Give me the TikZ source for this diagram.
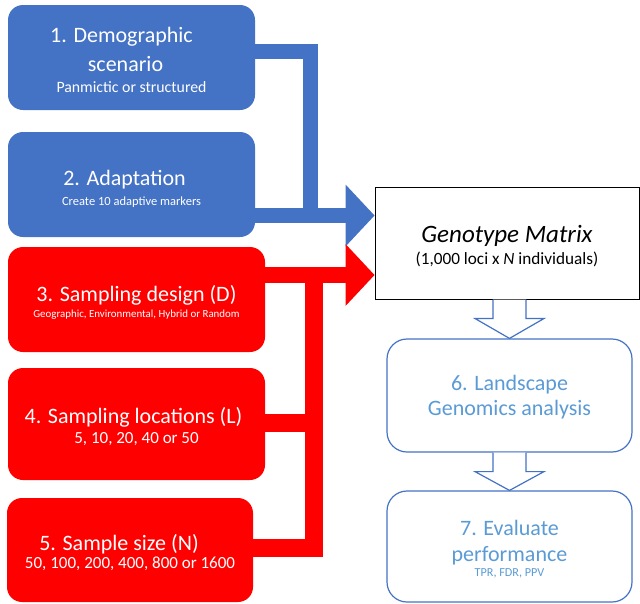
\documentclass[tikz,border=0pt]{standalone}
\usepackage{fontspec}
\setmainfont{Carlito}
\usetikzlibrary{arrows.meta,calc}
\definecolor{cblue}{HTML}{4472C4}
\definecolor{cred}{HTML}{FF0000}
\definecolor{ltblue}{HTML}{5B9BD5}
\newcommand\ttlfont{\fontsize{22}{28}\selectfont}
\newcommand\subfont[1]{\fontsize{#1}{#1}\selectfont}
\newcommand\padr[1]{\rule{#1}{0pt}}
\begin{document}
\begin{tikzpicture}[x=1pt,y=-1pt,
  box/.style={rounded corners=15pt, inner sep=0pt},
  bluebox/.style={box, fill=cblue},
  redbox/.style={box, fill=cred},
  wtxt/.style={inner sep=0pt, align=center, text=white, font=\ttlfont},
  ltxt/.style={inner sep=0pt, align=center, text=ltblue, font=\ttlfont},
  outbox/.style={draw=cblue, line width=1.2pt, rounded corners=20pt, inner sep=0pt, fill=white},
  blueconn/.style={draw=cblue, line width=15pt, line join=miter},
  redconn/.style={draw=cred, line width=18pt, line join=miter},
  bigtip/.style={-{Triangle[length=29pt 0 0, width=62pt 0 0, line width=0pt 0 0]}},
  hollow/.style={draw=cblue, line width=1.2pt, fill=white, line join=miter}
]
\useasboundingbox (0,0) rectangle (640,603);

% boxes
\node[bluebox, minimum width=247pt, minimum height=105pt] (b1) at (131.5,57.5) {};
\node[wtxt] (t1) at ($(b1.center)+(0,2.5)$)
  {1. Demographic\padr{20pt}\\[1pt] scenario\padr{12pt}\\[-6.5pt] {\subfont{15.8}Panmictic or structured}};
\node[bluebox, minimum width=247pt, minimum height=105pt] (b2) at (131.5,184.5) {};
\node[wtxt] (t2) at ($(b2.center)+(0,4)$)
  {2. Adaptation\padr{14pt}\\[-8pt] {\subfont{12.5}Create 10 adaptive markers}};
\node[redbox, minimum width=257pt, minimum height=105pt] (b3) at (136.5,299.5) {};
\node[wtxt] (t3) at ($(b3.center)+(0,3)$)
  {3. Sampling design (D)\\[-12pt] {\subfont{10.9}Geographic, Environmental, Hybrid or Random}};
\node[redbox, minimum width=257pt, minimum height=112pt] (b4) at (136.5,424) {};
\node[wtxt] (t4) at ($(b4.center)+(0,2.5)$)
  {4. Sampling locations (L)\padr{6pt}\\[-8.5pt] {\subfont{17}5, 10, 20, 40 or 50}};
\node[redbox, minimum width=246pt, minimum height=104pt] (b5) at (130,550) {};
\node[wtxt] (t5) at ($(b5.center)+(0,2.5)$)
  {5. Sample size (N)\padr{22pt}\\[-9.5pt] {\subfont{17}50, 100, 200, 400, 800 or 1600}};

\node[draw=black, line width=1pt, inner sep=0pt, minimum width=264pt, minimum height=112pt] (gm) at (507,243) {};
\node[inner sep=0pt, align=center] (tg) at ($(gm.center)+(0,3.5)$)
  {{\fontsize{25}{28}\selectfont\itshape Genotype Matrix}\\[4.5pt] {\subfont{17.2}(1,000 loci x \textit{N} individuals)}};

\node[outbox, minimum width=245pt, minimum height=113pt] (b6) at (509.5,395.5) {};
\node[ltxt] (t6) at ($(b6.center)+(0,2)$)
  {6. Landscape\\[-3pt] Genomics analysis};
\node[outbox, minimum width=245pt, minimum height=111pt] (b7) at (509.5,546.5) {};
\node[ltxt] (t7) at ($(b7.center)+(0,2.5)$)
  {7. Evaluate\\[-2pt] performance\\[-13.5pt] {\subfont{12.2}TPR, FDR, PPV}};

% junction coordinates
\coordinate (bj) at (310.5,51);
\coordinate (bb) at (310.5,215.5);
\coordinate (rt) at (314,267);
\coordinate (ra) at (314,275);
\coordinate (r4) at (314,423);
\coordinate (r5) at (314,547.5);
\coordinate (rb) at (314,557);

% blue connectors
\draw[blueconn] (b1.east |- bj) -- (bj) -- (bb);
\draw[blueconn, bigtip] (b2.east |- bb) -- (gm.west |- bb);

% red connectors
\draw[redconn] (rt) -- (rb);
\draw[redconn] (b4.east |- r4) -- (r4);
\draw[redconn] (b5.east |- r5) -- (r5);
\draw[redconn, line width=16pt, bigtip] (b3.east |- ra) -- (gm.west |- ra);

% hollow block arrows
\coordinate (h1) at (b6.north |- gm.south);
\draw[hollow] ($(h1)+(-16.5,0)$) -- ++(0,19) -- ++(-18,0) -- (b6.north)
  -- ($(h1)+(34.5,19)$) -- ++(-18,0) -- ++(0,-19);
\coordinate (h2) at (b7.north |- b6.south);
\draw[hollow] ($(h2)+(-16.5,0)$) -- ++(0,19) -- ++(-18,0) -- (b7.north)
  -- ($(h2)+(34.5,19)$) -- ++(-18,0) -- ++(0,-19);
\end{tikzpicture}
\end{document}
